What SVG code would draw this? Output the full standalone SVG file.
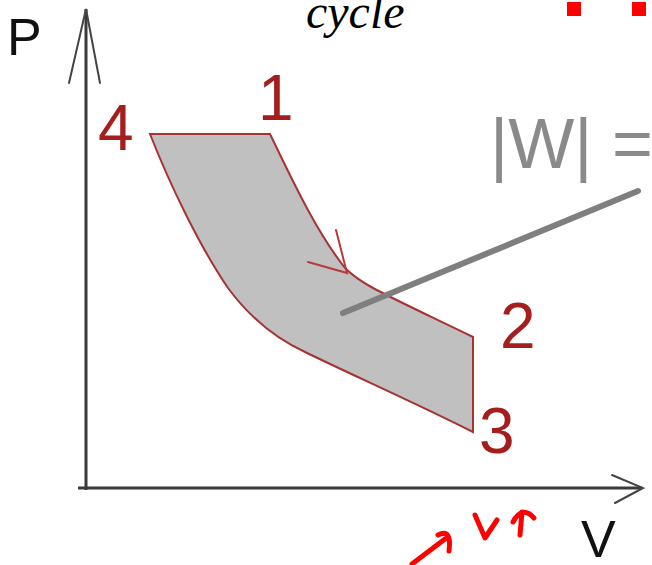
<svg xmlns="http://www.w3.org/2000/svg" width="652" height="565" viewBox="0 0 652 565">
<style>
.axis{stroke:#3a3a3a;stroke-width:3;fill:none}
.head{stroke:#444;stroke-width:2;fill:none;stroke-linecap:round}
.pt{font-family:"Liberation Sans",Arial,sans-serif;font-size:64px;fill:#a51d1d}
.ax{font-family:"Liberation Sans",Arial,sans-serif;font-size:52px;fill:#111}
.red{stroke:#ff0000;stroke-width:5;fill:none;stroke-linecap:round;stroke-linejoin:round}
</style>
<rect width="652" height="565" fill="#ffffff"/>
<g id="title">
<text x="306" y="28" font-family="'Liberation Serif','Times New Roman',serif" font-style="italic" font-size="48" fill="#000">cycle</text>
<rect x="567" y="2" width="14" height="14" fill="#ff0000"/>
<rect x="632" y="2" width="14" height="14" fill="#ff0000"/>
</g>
<g id="cycle-area">
<path d="M 150 134 L 270 134 C 290 175 315 230 345 268 C 362 285 380 292 473 337 L 473 432 C 420 405 350 374 305 352 C 272 337 248 315 228 288 C 200 247 170 185 150 134 Z" fill="#c0c0c0" stroke="#a83232" stroke-width="2"/>
<path d="M 336 230 L 347 273 L 308 262" fill="none" stroke="#b83a3a" stroke-width="2" stroke-linecap="round"/>
</g>
<g id="connectors">
<line class="axis" x1="86" y1="9" x2="86" y2="490"/>
<line class="axis" x1="78" y1="488" x2="642" y2="488"/>
<path class="head" d="M 69 83 L 86 9 L 100 83"/>
<path class="head" d="M 612 475 L 643 488 L 615 503"/>
<line x1="343" y1="313" x2="638" y2="191" stroke="#7f7f7f" stroke-width="6" stroke-linecap="round"/>
</g>
<g id="label-P"><text class="ax" x="7" y="55">P</text></g>
<g id="label-V"><text class="ax" x="581" y="557">V</text></g>
<g id="label-4"><text class="pt" x="98" y="150">4</text></g>
<g id="label-1"><text class="pt" x="258" y="120">1</text></g>
<g id="label-2"><text class="pt" x="500" y="348">2</text></g>
<g id="label-3"><text class="pt" x="479" y="453">3</text></g>
<g id="label-W"><text x="490" y="168" font-family="'Liberation Sans',Arial,sans-serif" font-size="70" fill="#8a8a8a">|W| =</text></g>
<g id="annotations">
<path class="red" d="M 412 564 L 445 539"/>
<path class="red" d="M 438 535 Q 452 528 449 551"/>
<path class="red" d="M 475 515 L 485 538 L 497 520"/>
<path class="red" d="M 513 522 Q 522 505 534 518"/>
<path class="red" d="M 522 512 L 520 535"/>
</g>
</svg>
